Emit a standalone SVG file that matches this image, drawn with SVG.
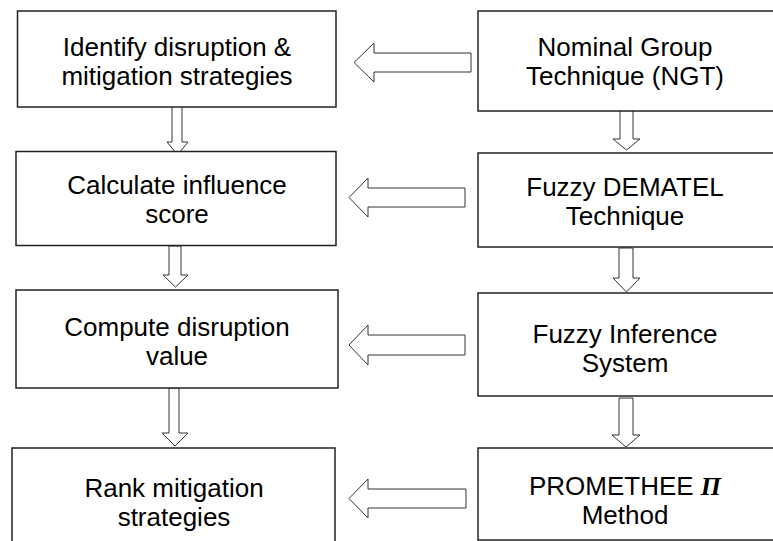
<svg xmlns="http://www.w3.org/2000/svg" width="773" height="541" viewBox="0 0 773 541">
<style>
.box{fill:#fff;stroke:#222;stroke-width:1.5}
.arr{fill:#fff;stroke:#333;stroke-width:1;stroke-linejoin:miter}
.t{font-family:"Liberation Sans",Arial,sans-serif;font-size:26px;fill:#000;text-anchor:middle}
.pi{font-family:"Liberation Serif","Times New Roman",serif;font-weight:bold;font-style:italic}
</style>
<rect width="773" height="541" fill="#fff"/>
<g id="connectors">
<polygon class="arr" points="471,53 471,72 374,72 374,82 354,62.5 374,43 374,53"/>
<polygon class="arr" points="465,188 465,207 368,207 368,217 349,197.5 368,178 368,188"/>
<polygon class="arr" points="465,335 465,355 368,355 368,365 349,345 368,325 368,335"/>
<polygon class="arr" points="466,489 466,508 368,508 368,518 349,498.5 368,479 368,489"/>
<polygon class="arr" points="172,106 182,106 182,142 188,142 177.5,155 167,142 172,142"/>
<polygon class="arr" points="169,246 181,246 181,275 188,275 175.5,287 163,275 169,275"/>
<polygon class="arr" points="169,388 179,388 179,433 188,433 175,446 162,433 169,433"/>
<polygon class="arr" points="620,108 633,108 633,139 640,139 626.5,150 613,139 620,139"/>
<polygon class="arr" points="619,248 633,248 633,278 640,278 626.5,292 613,278 619,278"/>
<polygon class="arr" points="619,398 633,398 633,435 640,435 626,447 612,435 619,435"/>
</g>
<g id="identify">
<rect class="box" x="17.5" y="11" width="318.5" height="96"/>
<text class="t" x="177" y="56">Identify disruption &amp;</text>
<text class="t" x="177" y="85">mitigation strategies</text>
</g>
<g id="ngt">
<rect class="box" x="478" y="11" width="297" height="100"/>
<text class="t" x="625" y="56">Nominal Group</text>
<text class="t" x="625" y="85">Technique (NGT)</text>
</g>
<g id="influence">
<rect class="box" x="16" y="151.5" width="320" height="94"/>
<text class="t" x="177" y="194">Calculate influence</text>
<text class="t" x="177" y="223">score</text>
</g>
<g id="dematel">
<rect class="box" x="478" y="153" width="297" height="94"/>
<text class="t" x="625" y="196">Fuzzy DEMATEL</text>
<text class="t" x="625" y="225">Technique</text>
</g>
<g id="disruption">
<rect class="box" x="16" y="290" width="322" height="98"/>
<text class="t" x="177" y="336">Compute disruption</text>
<text class="t" x="177" y="365">value</text>
</g>
<g id="fis">
<rect class="box" x="478" y="293" width="297" height="103"/>
<text class="t" x="625" y="343">Fuzzy Inference</text>
<text class="t" x="625" y="372">System</text>
</g>
<g id="rank">
<rect class="box" x="12" y="448" width="323" height="96"/>
<text class="t" x="174" y="497">Rank mitigation</text>
<text class="t" x="174" y="526">strategies</text>
</g>
<g id="promethee">
<rect class="box" x="478" y="448" width="297" height="92"/>
<text class="t" x="625" y="495">PROMETHEE <tspan class="pi">Π</tspan></text>
<text class="t" x="625" y="524">Method</text>
</g>
</svg>
